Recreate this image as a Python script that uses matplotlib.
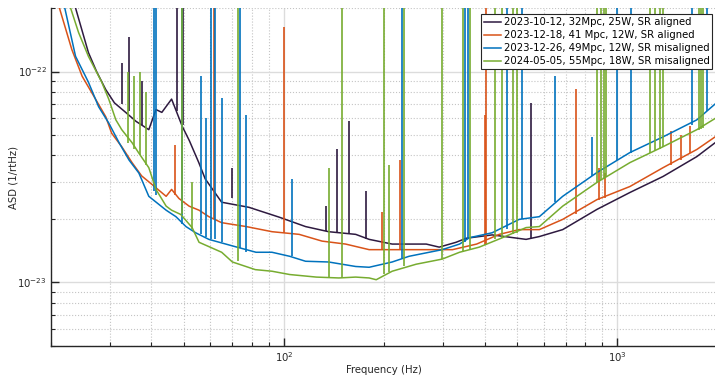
import numpy as np
import matplotlib
matplotlib.use('Agg')
from matplotlib import pyplot as plt
from matplotlib.ticker import LogLocator, NullFormatter

labels = ['2023-10-12, 32Mpc, 25W, SR aligned',
          '2023-12-18, 41 Mpc, 12W, SR aligned',
          '2023-12-26, 49Mpc, 12W, SR misaligned',
          '2024-05-05, 55Mpc, 18W, SR misaligned']
colors = ['#2E1A40', '#D95319', '#0072BD', '#77AC30']

# broadband curves, ASD in units of 1e-23 /rtHz
f_a = [20, 23.7, 25.9, 27.4, 29.2, 31, 33.5, 36, 39.3, 41.3, 43, 46, 49.5, 52, 55.5, 58,
       65, 78.5, 96.6, 116, 136, 164, 180, 211, 267, 292, 328, 352, 421, 532, 583,
       685, 868, 1090, 1370, 1730, 2000]
asd_a = [30, 20, 12.3, 10, 8.2, 7.1, 6.4, 5.8, 5.3, 6.6, 6.4, 7.4, 5.5, 4.7, 3.7, 3.1,
         2.4, 2.27, 2.04, 1.84, 1.74, 1.69, 1.60, 1.52, 1.52, 1.47, 1.55, 1.62, 1.68, 1.6, 1.65,
         1.78, 2.22, 2.67, 3.18, 3.95, 4.7]

f_b = [20, 21.2, 23.1, 24.8, 27.2, 29.2, 30.4, 32.6, 35, 37.4, 39.3, 44.3, 46, 48.4, 51.9,
       55.6, 59.5, 65, 77, 92, 111, 130, 153, 180, 211, 267, 320, 378, 442, 507, 583,
       685, 868, 1090, 1370, 1730, 2000]
asd_b = [26, 20, 12.7, 9.5, 7.4, 6.1, 5.1, 4.4, 3.7, 3.2, 3.0, 2.56, 2.76, 2.5, 2.3,
         2.2, 2.05, 1.92, 1.84, 1.74, 1.69, 1.57, 1.52, 1.43, 1.43, 1.43, 1.43, 1.52, 1.69, 1.78, 1.78,
         1.99, 2.47, 2.85, 3.5, 4.27, 5.0]

f_c = [20, 22, 23.7, 25.9, 27.8, 29.8, 32, 34.3, 36.7, 39.3, 44.3, 47.4, 50.8, 54.3, 59.5,
       70, 82.4, 92, 104, 116, 136, 164, 180, 211, 237, 298, 336, 360, 421, 507, 583,
       685, 868, 1090, 1370, 1730, 2000]
asd_c = [25, 20, 11.8, 8.9, 6.8, 5.7, 4.6, 3.8, 3.3, 2.56, 2.2, 2.05, 1.84, 1.72, 1.6,
         1.49, 1.39, 1.39, 1.33, 1.26, 1.25, 1.19, 1.18, 1.25, 1.33, 1.43, 1.52, 1.63, 1.72, 1.99, 2.05,
         2.56, 3.32, 4.13, 4.9, 5.9, 7.2]

f_d = [20, 22.9, 24.2, 25.9, 28.4, 29.8, 31.3, 32.6, 35, 36.7, 39.3, 41.3, 44.3, 46, 49,
       53, 55.6, 65, 70, 82, 92, 104, 125, 146, 164, 180, 189, 211, 249, 298, 336, 385, 452,
       532, 583, 685, 868, 1090, 1370, 1730, 2000]
asd_d = [30, 20, 15.3, 11.8, 8.9, 7.4, 5.9, 5.3, 4.6, 4.1, 3.5, 2.76, 2.3, 2.2, 2.1,
         1.82, 1.55, 1.39, 1.25, 1.15, 1.13, 1.09, 1.06, 1.05, 1.06, 1.05, 1.03, 1.13, 1.22, 1.29, 1.39, 1.47, 1.63,
         1.82, 1.84, 2.3, 2.98, 3.7, 4.4, 5.3, 6.1]

# narrow lines: frequency, foot and top (same units)
spk_a_f = [32.6, 34.2, 37.5, 47.7, 49.8, 70, 134, 144, 157, 176, 550]
spk_a_lo = [7.0, 6.5, 5.6, 6.5, 5.6, 2.5, 1.75, 1.72, 1.69, 1.6, 1.6]
spk_a_hi = [11, 14.6, 9, 30, 30, 3.5, 2.3, 4.3, 5.8, 2.7, 7.1]

spk_b_f = [47, 61.5, 100, 197, 222, 400, 404, 750, 880, 920, 1450, 1550, 1650]
spk_b_lo = [2.6, 2.0, 1.72, 1.43, 1.43, 1.5, 1.5, 2.1, 2.45, 2.5, 3.6, 3.8, 4.1]
spk_b_hi = [4.5, 30, 16.3, 2.15, 3.8, 6.2, 30, 8.3, 3.5, 3.3, 5.2, 5.0, 5.5]

spk_c_f = [40.7, 41.3, 49.5, 56.3, 58.5, 60.5, 62, 65, 74, 77, 106, 226, 350, 355, 465, 518, 650,
           840, 1000, 1100, 1670, 1850]
spk_c_lo = [2.7, 2.6, 1.9, 1.7, 1.65, 1.6, 1.6, 1.55, 1.45, 1.4, 1.33, 1.3, 1.55, 1.6, 1.8, 2.0, 2.4,
            3.2, 3.8, 4.1, 5.6, 6.5]
spk_c_hi = [30, 30, 30, 9.5, 6.0, 30, 30, 7.5, 30, 6.2, 3.1, 30, 30, 30, 30, 30, 9.5,
            4.9, 30, 30, 30, 30]

spk_d_f = [34, 35.5, 37, 38.5, 49.5, 53, 73, 136, 149, 200, 206, 229, 298, 345, 360,
           430, 450, 485, 500, 870, 890, 910, 925, 1250, 1300, 1340, 1370, 1750, 1780, 1800]
spk_d_lo = [4.6, 4.3, 4.0, 3.6, 2.1, 1.8, 1.26, 1.05, 1.05, 1.1, 1.12, 1.2, 1.29, 1.4, 1.42,
            1.6, 1.62, 1.7, 1.72, 3.0, 3.05, 3.1, 3.15, 4.1, 4.2, 4.3, 4.4, 5.3, 5.35, 5.4]
spk_d_hi = [10, 9.5, 10, 8, 30, 3.0, 30, 3.5, 30, 30, 3.6, 30, 30, 30, 30,
            30, 30, 30, 30, 30, 30, 30, 30, 30, 30, 30, 30, 30, 30, 30]

curves = [(f_a, asd_a, spk_a_f, spk_a_lo, spk_a_hi),
          (f_b, asd_b, spk_b_f, spk_b_lo, spk_b_hi),
          (f_c, asd_c, spk_c_f, spk_c_lo, spk_c_hi),
          (f_d, asd_d, spk_d_f, spk_d_lo, spk_d_hi)]

plt.rcParams['font.family'] = ['DejaVu Sans']
fig = plt.figure(figsize=(7.15, 3.76), dpi=100)
ax = fig.add_axes([0.0713, 0.080, 0.9327, 0.8987])

for (f, a, sf, slo, shi), col, lab in zip(curves, colors, labels):
    ax.plot(f, np.array(a) * 1e-23, color=col, linewidth=1.1, label=lab)
    ax.vlines(sf, np.array(slo) * 1e-23, np.array(shi) * 1e-23, color=col, linewidth=1.2)

ax.set_xscale('log')
ax.set_yscale('log')
ax.set_xlim(20, 2000)
ax.set_ylim(5e-24, 2e-22)
ax.set_xticks([100, 1000])
ax.set_yticks([1e-23, 1e-22])

ax.yaxis.set_minor_locator(LogLocator(base=10, subs=np.arange(2, 10)))
ax.xaxis.set_minor_locator(LogLocator(base=10, subs=np.arange(2, 10)))
ax.xaxis.set_minor_formatter(NullFormatter())
ax.yaxis.set_minor_formatter(NullFormatter())

ax.grid(True, which='major', color='#dcdcdc', linestyle='-', linewidth=1.0)
ax.grid(True, which='minor', color='#c4c4c4', linestyle=':', linewidth=0.8)
ax.set_axisbelow(True)

for s in ['top', 'right']:
    ax.spines[s].set_visible(False)
for s in ['left', 'bottom']:
    ax.spines[s].set_color('#262626')
    ax.spines[s].set_linewidth(1.0)
ax.tick_params(which='major', direction='in', length=6, width=1.0, colors='#262626',
               labelsize=7.3, pad=3)
ax.tick_params(which='minor', direction='in', length=3, width=0.8, colors='#262626')

ax.set_xlabel('Frequency (Hz)', fontsize=7.3, color='#262626', labelpad=1)
ax.set_ylabel('ASD (1/rtHz)', fontsize=7.3, color='#262626', labelpad=-1)

leg = ax.legend(loc='upper right', bbox_to_anchor=(0.995, 0.988), fontsize=7.3, frameon=True,
                fancybox=False, framealpha=1.0, edgecolor='#262626', handlelength=1.6,
                handletextpad=0.3, borderpad=0.3, labelspacing=0.3, borderaxespad=0.2)
leg.get_frame().set_linewidth(0.8)

fig.savefig('out.png', dpi=100)
